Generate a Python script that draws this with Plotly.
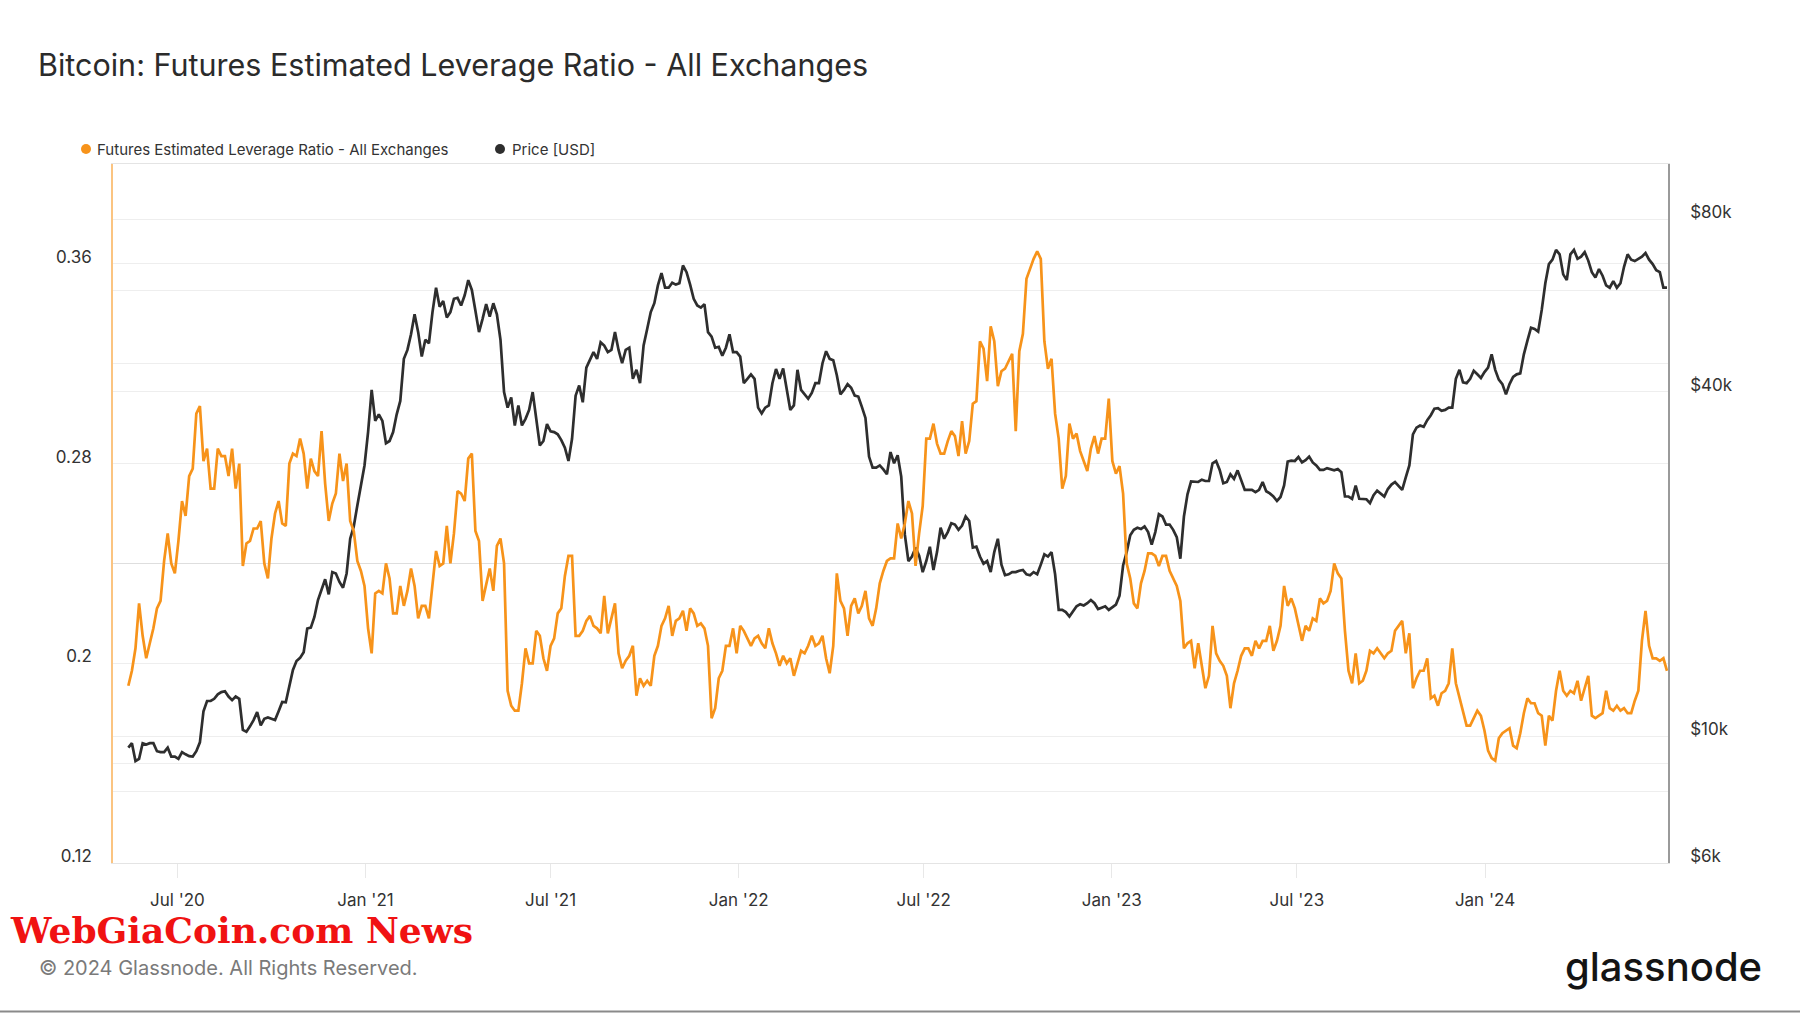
import plotly.graph_objects as go
import pandas as pd

# ---------------- DATA ----------------
# Samples every 7 days starting at start_date, plus mid-week samples (3.5 days later)
start_date = "2020-05-14"

leverage_weekly = [
    0.191, 0.206, 0.211, 0.208, 0.222, 0.241, 0.240, 0.249, 0.259, 0.278,
    0.303, 0.286, 0.270, 0.283, 0.275, 0.270, 0.239, 0.249, 0.254, 0.240,
    0.250, 0.265, 0.255, 0.284, 0.290, 0.270, 0.277, 0.293, 0.257, 0.268,
    0.273, 0.257, 0.241, 0.231, 0.204, 0.229, 0.240, 0.220, 0.231, 0.229,
    0.231, 0.223,
    0.218, 0.245, 0.240, 0.240, 0.269, 0.265, 0.284, 0.249, 0.231, 0.229,
    0.250, 0.189, 0.181, 0.192, 0.200, 0.213, 0.202, 0.207, 0.220, 0.235,
    0.243, 0.211, 0.217, 0.215, 0.212, 0.212, 0.224, 0.198, 0.203, 0.187,
    0.191, 0.191, 0.207, 0.218, 0.211, 0.218, 0.213, 0.220, 0.216, 0.207,
    0.182, 0.197, 0.207,
    0.204, 0.213, 0.207, 0.211, 0.206, 0.208, 0.199, 0.200, 0.195, 0.205,
    0.207, 0.207, 0.211, 0.196, 0.236, 0.222, 0.223, 0.220, 0.229, 0.215,
    0.232, 0.241, 0.242, 0.250, 0.265, 0.239, 0.263, 0.290, 0.288, 0.284,
    0.293, 0.283, 0.284, 0.304, 0.329, 0.313, 0.329, 0.317, 0.321, 0.293,
    0.332, 0.358, 0.365, 0.329,
    0.322, 0.290, 0.275, 0.290, 0.285, 0.277, 0.291, 0.290, 0.306, 0.276,
    0.268, 0.234, 0.222, 0.237, 0.244, 0.239, 0.243, 0.234, 0.225, 0.208,
    0.198, 0.199, 0.195, 0.204, 0.199, 0.182, 0.197, 0.206, 0.203, 0.206,
    0.209, 0.205, 0.215, 0.223, 0.222, 0.209, 0.213, 0.217, 0.224, 0.229,
    0.236, 0.213, 0.192,
    0.192, 0.197, 0.204, 0.204, 0.204, 0.213, 0.217, 0.212, 0.194, 0.197,
    0.186, 0.183, 0.189, 0.206, 0.186, 0.175, 0.178, 0.179, 0.165, 0.161,
    0.172, 0.174, 0.166, 0.180, 0.184, 0.180, 0.167, 0.177, 0.197, 0.187,
    0.188, 0.185, 0.195, 0.178, 0.180, 0.182, 0.183, 0.182, 0.180, 0.189,
    0.221, 0.202, 0.201, 0.197,
]

leverage_midweek = [
    0.197, 0.224, 0.202, 0.214, 0.225, 0.252, 0.236, 0.265, 0.275, 0.300,
    0.281, 0.270, 0.286, 0.283, 0.286, 0.280, 0.248, 0.254, 0.257, 0.234,
    0.260, 0.256, 0.280, 0.283, 0.284, 0.282, 0.275, 0.272, 0.264, 0.284,
    0.280, 0.253, 0.237, 0.214, 0.228, 0.228, 0.234, 0.220, 0.223, 0.238,
    0.218, 0.223,
    0.232, 0.239, 0.255, 0.252, 0.268, 0.282, 0.253, 0.225, 0.238, 0.247,
    0.240, 0.183, 0.181, 0.206, 0.200, 0.211, 0.197, 0.210, 0.222, 0.243,
    0.211, 0.213, 0.219, 0.214, 0.227, 0.218, 0.204, 0.201, 0.207, 0.194,
    0.193, 0.203, 0.215, 0.223, 0.217, 0.221, 0.222, 0.215, 0.214, 0.178,
    0.194, 0.207, 0.214,
    0.215, 0.210, 0.210, 0.208, 0.214, 0.204, 0.203, 0.202, 0.200, 0.204,
    0.211, 0.208, 0.202, 0.207, 0.225, 0.211, 0.226, 0.223, 0.218, 0.222,
    0.237, 0.242, 0.256, 0.256, 0.260, 0.252, 0.290, 0.296, 0.284, 0.289,
    0.291, 0.297, 0.289, 0.305, 0.326, 0.335, 0.311, 0.318, 0.324, 0.325,
    0.354, 0.362, 0.362, 0.318,
    0.300, 0.270, 0.296, 0.292, 0.281, 0.286, 0.284, 0.290, 0.281, 0.279,
    0.240, 0.224, 0.232, 0.244, 0.243, 0.243, 0.237, 0.231, 0.206, 0.209,
    0.208, 0.190, 0.215, 0.201, 0.195, 0.192, 0.203, 0.206, 0.209, 0.209,
    0.215, 0.209, 0.231, 0.226, 0.215, 0.215, 0.218, 0.226, 0.225, 0.240,
    0.234, 0.197, 0.204,
    0.193, 0.205, 0.206, 0.202, 0.205, 0.215, 0.204, 0.190, 0.197, 0.202,
    0.187, 0.188, 0.192, 0.192, 0.181, 0.175, 0.181, 0.173, 0.162, 0.170,
    0.173, 0.167, 0.172, 0.186, 0.184, 0.179, 0.179, 0.189, 0.189, 0.189,
    0.193, 0.190, 0.179, 0.179, 0.189, 0.181, 0.181, 0.180, 0.185, 0.209,
    0.207, 0.202, 0.202,
]

price_weekly = [
    9545, 9047, 9718, 9718, 9410, 9376, 9210, 9127, 9293, 9210,
    9752, 11518, 11620, 11937, 11726, 11726, 10254, 10401, 11013, 10722,
    10722, 11054, 11456, 13054, 13700, 15417, 16150, 18007, 17688, 19243,
    18170, 22131, 25303, 29720, 40284, 36510, 32500, 33990, 38530, 47320,
    54610, 46070,
    48600, 60780, 57600, 55100, 58330, 58960, 60240, 50830, 56900, 57100,
    49300, 37510, 34910, 34910, 37170, 35550, 32800, 34110, 33690, 31920,
    33090, 41020, 44060, 46910, 48780, 46910, 50830, 44850, 47740, 43670,
    48170, 55100, 61340, 60800, 62000, 61890, 64710, 58130, 56090, 50830,
    47740, 46240, 50380,
    46910, 41390, 42890, 37510, 37510, 41390, 42120, 40070, 37840, 40284,
    38870, 41390, 44850, 45650, 42740, 40284, 40640, 39220, 35990, 29460,
    29720, 28680, 29990, 28420, 20230, 21350, 19350, 21430, 20970, 22131,
    23560, 22940, 24200, 21350, 20600, 20230, 20970, 19940, 19180, 19350,
    19520, 19110, 19180, 20780,
    20970, 16620, 16470, 16530, 17010, 17070, 17070, 16770, 16620, 16980,
    19870, 22440, 23130, 23260, 21620, 24420, 23430, 22940, 20420, 26460,
    27810, 28070, 27920, 30260, 27670, 28680, 29140, 26940, 26940, 26940,
    26790, 26230, 26180, 30200, 30260, 30090, 30800, 29720, 29190, 29300,
    29300, 26230, 25990,
    25990, 25940, 26370, 26560, 27030, 27810, 26940, 29720, 34600, 34730,
    36380, 37430, 37170, 37510, 43670, 41390, 43510, 42270, 44060, 43670,
    41240, 41240, 42890, 46490, 51750, 50920, 61890, 68050, 69520, 62660,
    70770, 68880, 67790, 63340, 63790, 60780, 60780, 66120, 68050, 68280,
    69900, 66830, 64710, 60780,
]

price_midweek = [
    9718, 9127, 9666, 9718, 9376, 9545, 9210, 9376, 9227, 9410,
    11054, 11518, 11830, 11981, 11558, 11620, 10180, 10665, 10438, 10780,
    10665, 11476, 12262, 13529, 14020, 15471, 17290, 18800, 19350, 18600,
    19243, 23260, 27420, 33990, 35550, 35550, 32800, 36510, 45650, 50380,
    50830, 49300,
    55100, 56280, 53920, 58130, 56580, 62660, 55380, 53630, 54110, 54610,
    39930, 39080, 37840, 35860, 39930, 32210, 35100, 33990, 32920, 30260,
    39360, 38320, 45410, 45650, 48170, 47320, 47320, 47320, 42120, 41390,
    51480, 57100, 64480, 60780, 61550, 66460, 61550, 56580, 56900, 49930,
    47900, 47740, 46910,
    46070, 42120, 42120, 36640, 37840, 43820, 43900, 37170, 43670, 39570,
    39780, 41390, 47070, 45410, 39570, 41240, 39360, 37630, 30800, 29460,
    29250, 31370, 30970, 22520, 20600, 20680, 20230, 19520, 23130, 22730,
    23430, 23340, 23770, 21430, 20020, 19350, 22131, 19110, 19350, 19450,
    19180, 19350, 19940, 20600,
    19180, 16620, 16180, 16860, 16920, 17290, 16680, 16860, 16770, 17600,
    20970, 22940, 23010, 22730, 22730, 24200, 23430, 22280, 24200, 27870,
    27810, 27920, 29990, 29190, 27810, 28170, 28020, 26940, 26700, 27810,
    26560, 25760, 27420, 30310, 30750, 30370, 30090, 29190, 29400, 29140,
    28930, 26230, 27420,
    25990, 25540, 26850, 26230, 27520, 27420, 28320, 33690, 34910, 35670,
    37360, 37030, 37510, 42120, 41530, 42120, 42890, 43280, 46490, 41980,
    39570, 42440, 43050, 49130, 51480, 55590, 66830, 70770, 64130, 69520,
    68280, 70140, 64710, 65530, 61340, 62440, 61890, 69520, 67670, 68880,
    68050, 65220, 60780,
]

x_tick_dates = ["2020-07-01", "2021-01-01", "2021-07-01", "2022-01-01",
                "2022-07-01", "2023-01-01", "2023-07-01", "2024-01-01"]
x_tick_labels = ["Jul '20", "Jan '21", "Jul '21", "Jan '22",
                 "Jul '22", "Jan '23", "Jul '23", "Jan '24"]

lev_grid = [0.12, 0.16, 0.20, 0.24, 0.28, 0.32, 0.36, 0.40]
lev_labels = ["0.12", "", "0.2", "", "0.28", "", "0.36", ""]

price_grid = [6000, 8000, 10000, 20000, 40000, 60000, 80000]
price_labels = ["$6k", "", "$10k", "", "$40k", "", "$80k"]

series_names = ["Futures Estimated Leverage Ratio - All Exchanges", "Price [USD]"]

# ---------------- assemble the series (weekly + mid-week samples) ----------------
weekly_dates = pd.date_range(start_date, periods=len(leverage_weekly), freq="7D")
mid_dates = weekly_dates[:-1] + pd.Timedelta(hours=84)

dates, leverage, price = [], [], []
for i, d in enumerate(weekly_dates):
    dates.append(d)
    leverage.append(leverage_weekly[i])
    price.append(price_weekly[i])
    if i < len(mid_dates):
        dates.append(mid_dates[i])
        leverage.append(leverage_midweek[i])
        price.append(price_midweek[i])

# ---------------- LAYOUT GEOMETRY ----------------
W, H = 1800, 1013
L, R, T, B = 113, 132, 164, 150
PW, PH = W - L - R, H - T - B


def px(x):
    return (x - L) / PW


def py(y):
    return (H - B - y) / PH


ORANGE = "#f7931a"
DARK = "#2e2e2e"
GRID = "rgba(0,0,0,0.065)"
FONT = "Inter"
TXT = "#333333"

fig = go.Figure()

# price on primary (right, log) axis, drawn underneath
fig.add_trace(go.Scatter(
    x=dates, y=price, mode="lines", name=series_names[1],
    line=dict(color=DARK, width=2.7), yaxis="y", showlegend=False,
))
# leverage ratio on the left axis, drawn on top
fig.add_trace(go.Scatter(
    x=dates, y=leverage, mode="lines", name=series_names[0],
    line=dict(color=ORANGE, width=2.7), yaxis="y2", showlegend=False,
))

fig.update_layout(
    width=W, height=H,
    margin=dict(l=L, r=R, t=T, b=B, autoexpand=False),
    paper_bgcolor="white", plot_bgcolor="white",
    font=dict(family=FONT, color=TXT, size=16),
    showlegend=False,
    xaxis=dict(
        type="date", range=["2020-04-29", "2024-06-28"],
        tickvals=x_tick_dates, ticktext=x_tick_labels,
        showgrid=False, zeroline=False,
        showline=True, linecolor="#e4e4e4", linewidth=1, mirror=True,
        ticks="outside", ticklen=14, tickcolor="#e8e8e8", tickwidth=1,
        ticklabelstandoff=8,
        tickfont=dict(size=17, color=TXT, family=FONT),
    ),
    yaxis=dict(
        type="log", side="right",
        range=[3.7782, 5.0],
        tickvals=price_grid, ticktext=price_labels,
        showgrid=True, gridcolor=GRID, gridwidth=1,
        zeroline=False, showline=True, linecolor="#9a9a9a", linewidth=1.5,
        ticks="", ticklabelstandoff=17, ticklabelshift=-7,
        tickfont=dict(size=17, color=TXT, family=FONT),
    ),
    yaxis2=dict(
        overlaying="y", side="left",
        range=[0.12, 0.40],
        tickvals=lev_grid, ticktext=lev_labels,
        showgrid=True, gridcolor=GRID, gridwidth=1,
        zeroline=False, showline=True, linecolor="rgba(247,147,26,0.55)", linewidth=1.5,
        ticks="", ticklabelstandoff=16, ticklabelshift=-7,
        tickfont=dict(size=17, color=TXT, family=FONT),
    ),
)

annotations = [
    dict(text="Bitcoin: Futures Estimated Leverage Ratio - All Exchanges",
         x=px(36), y=py(64), xanchor="left", yanchor="middle",
         font=dict(size=30.5, color="#2b2b2b", family=FONT)),
    # legend
    dict(text=series_names[0], x=px(95), y=py(149), xanchor="left", yanchor="middle",
         font=dict(size=15, color=TXT, family=FONT)),
    dict(text=series_names[1], x=px(510), y=py(149), xanchor="left", yanchor="middle",
         font=dict(size=15, color=TXT, family=FONT)),
    # footer
    dict(text="WebGiaCoin.com News",
         x=px(8), y=py(930), xanchor="left", yanchor="middle",
         font=dict(size=36, color="#f01212", family="DejaVu Serif", weight="bold")),
    dict(text="© 2024 Glassnode. All Rights Reserved.",
         x=px(37), y=py(968), xanchor="left", yanchor="middle",
         font=dict(size=20, color="#7a7a7a", family=FONT)),
    dict(text="glassnode",
         x=px(1764), y=py(966), xanchor="right", yanchor="middle",
         font=dict(size=40, color="#141414", family=FONT, weight=500)),
]
for a in annotations:
    a.update(xref="paper", yref="paper", showarrow=False)
fig.update_layout(annotations=annotations)

# legend dots
for cx, col in [(86, ORANGE), (500, DARK)]:
    fig.add_shape(type="circle", xref="paper", yref="paper",
                  xsizemode="pixel", ysizemode="pixel",
                  xanchor=px(cx), yanchor=py(149),
                  x0=-5, x1=5, y0=-5, y1=5,
                  fillcolor=col, line=dict(width=0), layer="above")

# thin grey rule at the very bottom of the card
fig.add_shape(type="line", xref="paper", yref="paper",
              x0=px(0), x1=px(W), y0=py(1011.5), y1=py(1011.5),
              line=dict(color="#8a8a8a", width=2), layer="above")

fig.write_html("out.html")
